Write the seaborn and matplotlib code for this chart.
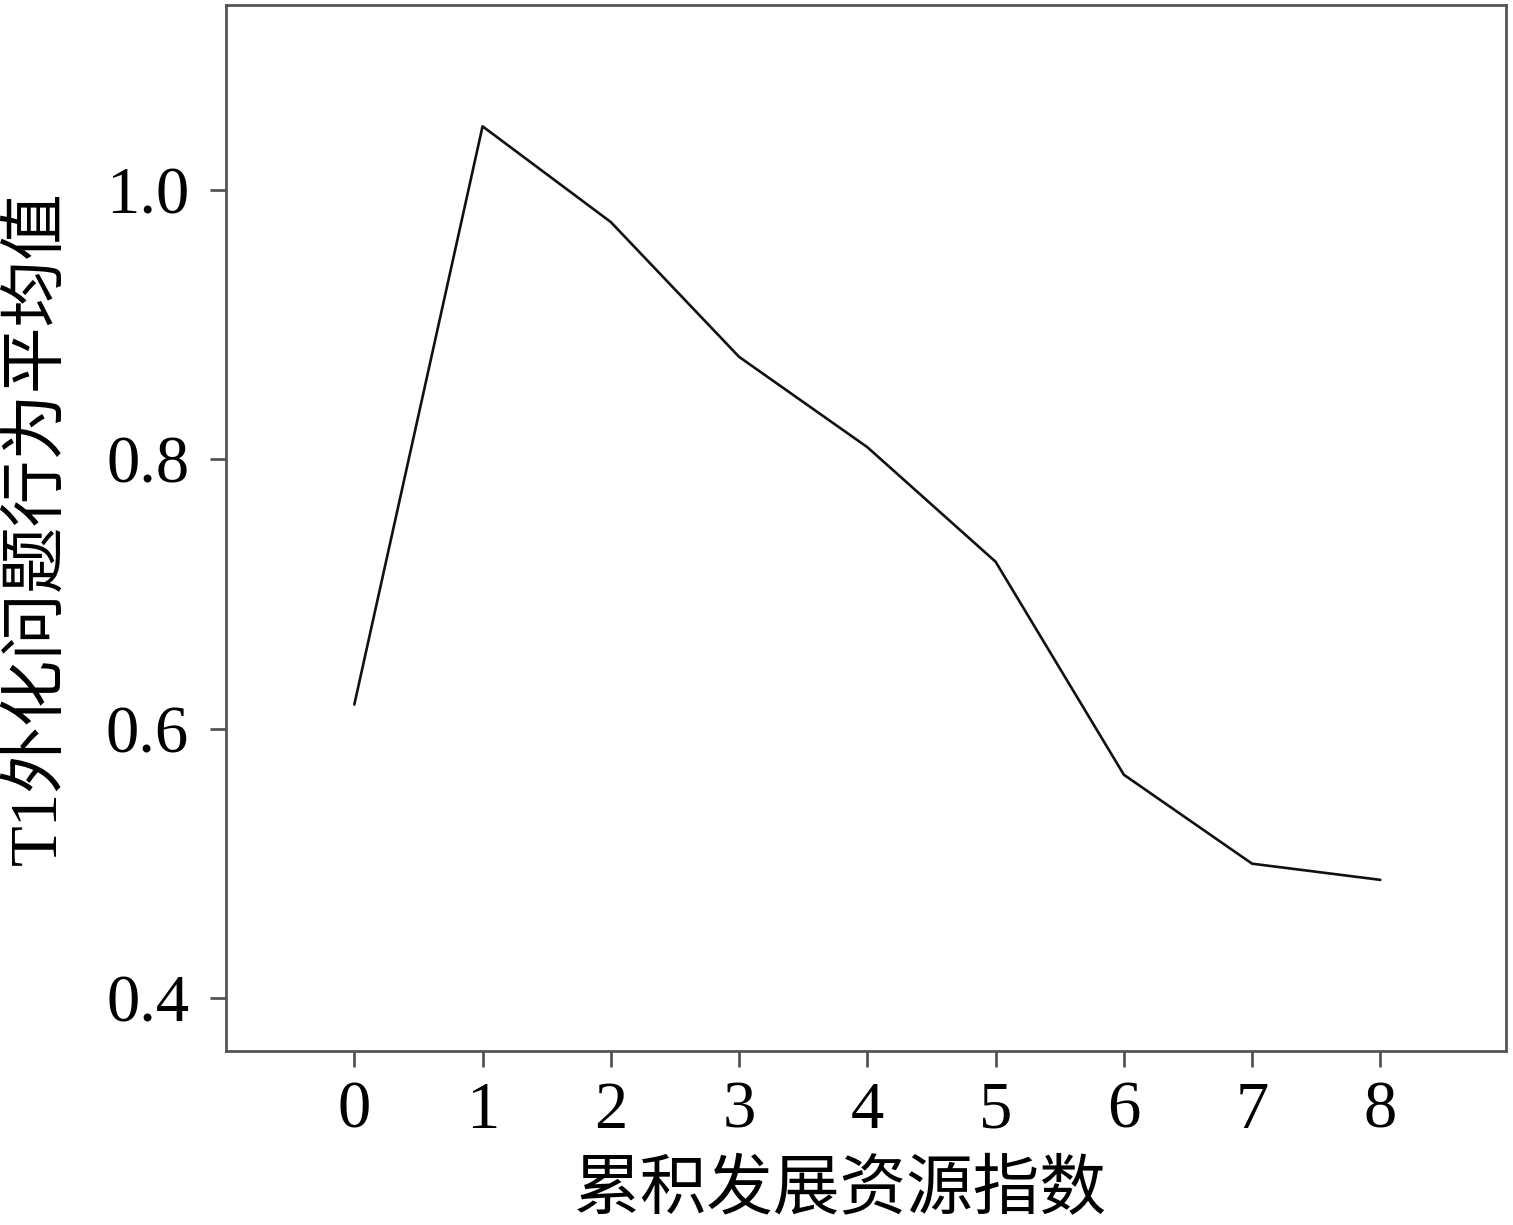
import seaborn as sns
import matplotlib.pyplot as plt
import pandas as pd

# 累积发展资源指数与T1外化问题行为平均值
zhishu = [0, 1, 2, 3, 4, 5, 6, 7, 8]
pingjunzhi = [0.618, 1.047, 0.976, 0.876, 0.809, 0.724, 0.566, 0.500, 0.488]
y_ticks = [0.4, 0.6, 0.8, 1.0]
y_tick_labels = ['0.4', '0.6', '0.8', '1.0']

df = pd.DataFrame({'累积发展资源指数': zhishu, 'T1外化问题行为平均值': pingjunzhi})

sns.set_style('white')
plt.rcParams['font.family'] = ['Liberation Serif', 'Noto Sans CJK SC']
plt.rcParams['text.color'] = 'black'
plt.rcParams['axes.labelcolor'] = 'black'
plt.rcParams['xtick.labelcolor'] = 'black'
plt.rcParams['ytick.labelcolor'] = 'black'

fig = plt.figure(figsize=(15.13, 12.25), dpi=100)
eixo = fig.add_axes([0.1494, 0.142, 0.8460, 0.8539])

sns.lineplot(data=df, x='累积发展资源指数', y='T1外化问题行为平均值',
             color='#111111', linewidth=1.9, ax=eixo)

eixo.set_xlim(-1, 8.98)
eixo.set_ylim(0.361, 1.137)
eixo.set_xticks(zhishu)
eixo.set_yticks(y_ticks)
eixo.set_yticklabels(y_tick_labels)

for lado in eixo.spines.values():
    lado.set_color('#555555')
    lado.set_linewidth(2.0)

eixo.tick_params(axis='both', which='major', direction='out', length=11.5,
                 width=2.0, color='#555555', labelsize=48,
                 bottom=True, left=True, top=False, right=False)
eixo.tick_params(axis='y', pad=15)
eixo.tick_params(axis='x', pad=10)

eixo.set_xlabel('累积发展资源指数', fontsize=48, labelpad=14)
eixo.set_ylabel('T1外化问题行为平均值', fontsize=48, labelpad=26)
eixo.xaxis.set_label_coords(0.48, -0.105)

plt.savefig('out.png', dpi=100)
